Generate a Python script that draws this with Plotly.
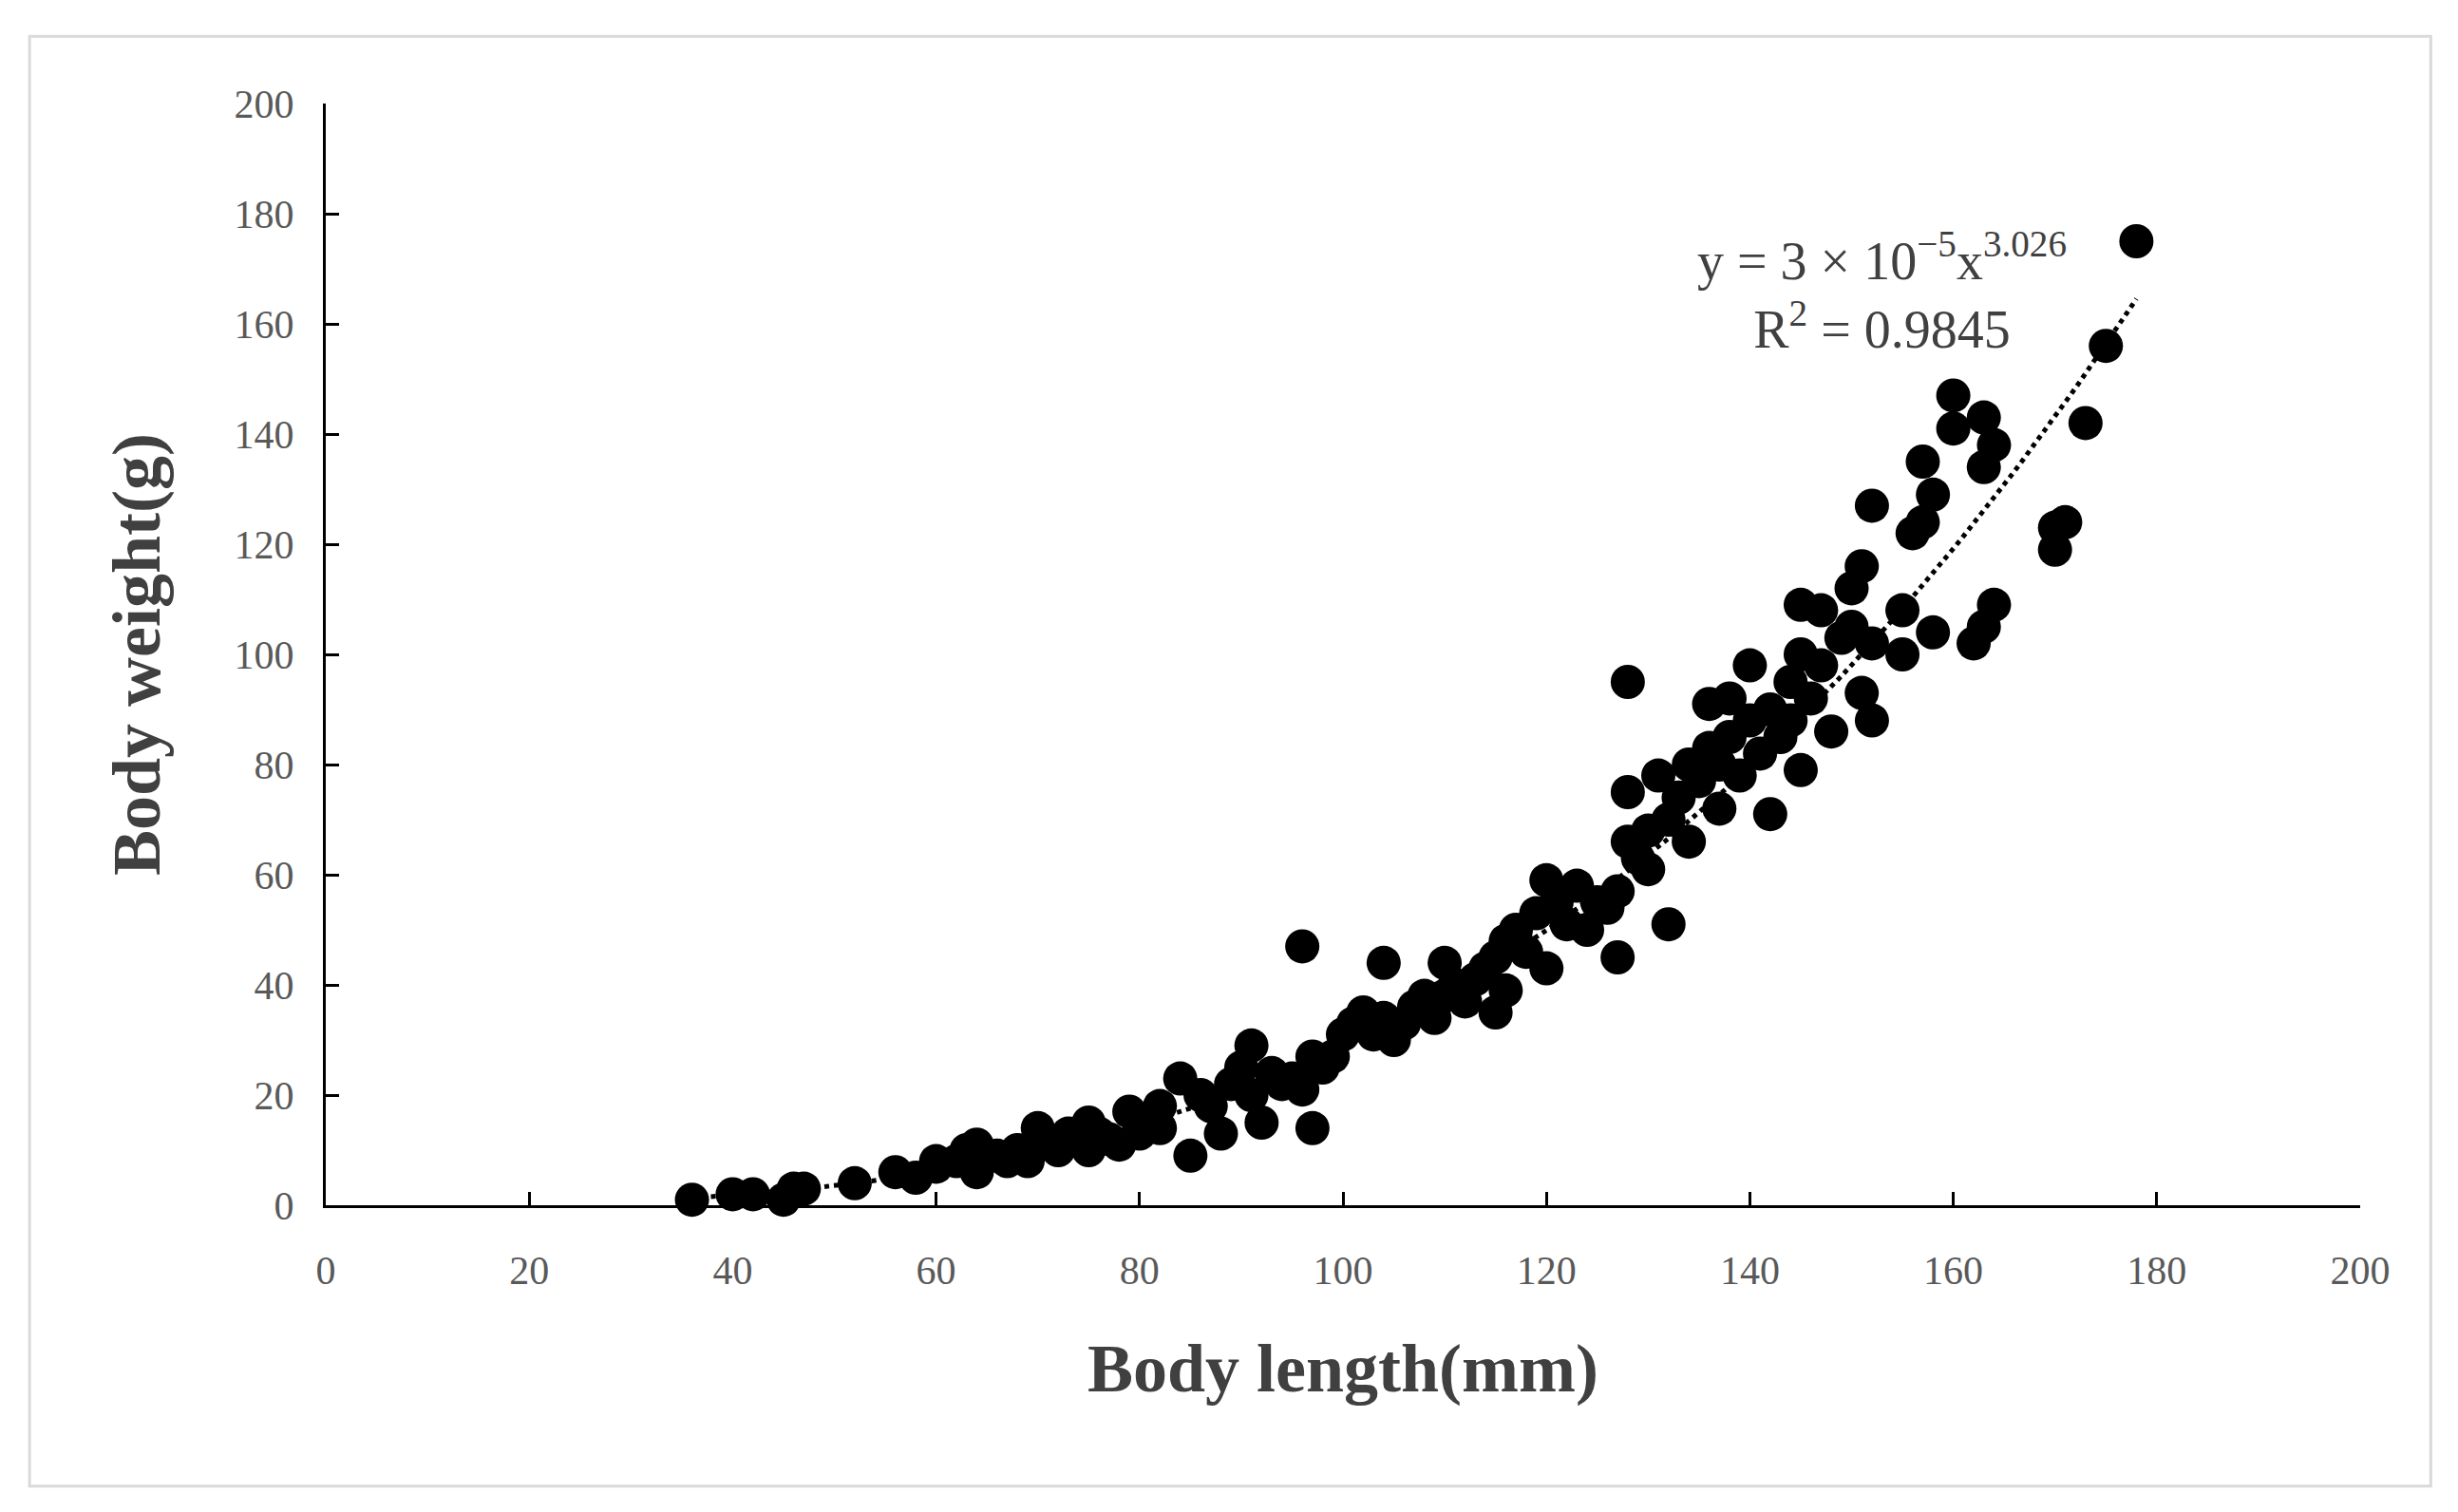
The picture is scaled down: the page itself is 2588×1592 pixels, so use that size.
import plotly.graph_objects as go
import numpy as np

pts = [(36,1),(40,2),(42,2),(45,1),(46,3),(47,3),(52,4),(56,6),(58,5),(60,7),(60,8),(62,8),(63,10),(64,6),(64,11),(65,9),(66,9),(67,8),(68,10),(69,8),(70,14),(70,11),(72,10),(73,13),(74,12),(75,15),(75,10),(76,13),(77,12),(78,11),(79,17),(80,13),(81,15),(82,18),(82,14),(84,23),(85,9),(86,20),(87,18),(88,13),(89,22),(90,25),(91,29),(91,20),(92,15),(93,24),(94,22),(95,23),(96,47),(96,21),(97,14),(97,27),(98,25),(99,27),(100,31),(101,33),(102,35),(103,31),(104,44),(104,34),(105,30),(106,33),(107,36),(108,38),(109,34),(110,44),(110,38),(111,40),(112,37),(113,41),(114,43),(115,35),(115,45),(116,39),(116,48),(117,50),(118,46),(119,53),(120,59),(120,43),(121,55),(122,51),(123,58),(124,50),(125,55),(126,54),(127,45),(127,57),(128,95),(128,75),(128,66),(129,63),(130,68),(130,61),(131,78),(132,51),(132,70),(133,74),(134,66),(134,80),(135,77),(136,91),(136,83),(137,72),(137,80),(138,92),(138,85),(139,78),(140,98),(140,88),(141,82),(142,71),(142,90),(143,85),(144,95),(144,88),(145,79),(145,109),(145,100),(146,92),(147,108),(147,98),(148,86),(149,103),(150,112),(150,105),(151,116),(151,93),(152,127),(152,88),(152,102),(155,100),(155,108),(156,122),(157,135),(157,124),(158,129),(158,104),(160,147),(160,141),(163,143),(163,134),(164,138),(162,102),(163,105),(164,109),(170,119),(170,123),(171,124),(173,142),(175,156),(178,175)]
length = [p[0] for p in pts]
weight = [p[1] for p in pts]
# trendline as drawn in the reference (coefficient shown rounded in label)
fit_a, fit_b = 2.55e-5, 3.026
tx = np.linspace(36, 178, 200)
ty = fit_a * tx ** fit_b

fig = go.Figure()
fig.add_trace(go.Scatter(x=tx, y=ty, mode="lines", line=dict(color="black", width=5, dash="dot"), showlegend=False))
fig.add_trace(go.Scatter(x=length, y=weight, mode="markers", marker=dict(color="black", size=36), showlegend=False, cliponaxis=False))

ax = dict(range=[0, 200], dtick=20, showgrid=False, zeroline=False, showline=True, linecolor="black", linewidth=3,
          ticks="inside", ticklen=14, tickwidth=3, tickcolor="black",
          tickfont=dict(family="Liberation Serif", size=42, color="#595959"))
fig.update_xaxes(**ax, ticklabelstandoff=30, title=dict(text="Body length(mm)", standoff=55,
                 font=dict(family="Liberation Serif", size=72, color="#404040", weight="bold")))
fig.update_yaxes(**ax, ticklabelstandoff=22, title=dict(text="Body weight(g)", standoff=55,
                 font=dict(family="Liberation Serif", size=72, color="#404040", weight="bold")))
fig.add_annotation(x=153, y=166, xref="x", yref="y", showarrow=False,
                   text="y = 3 × 10<sup>−5</sup>x<sup>3.026</sup><br>R<sup>2</sup> = 0.9845",
                   font=dict(family="Liberation Serif", size=56, color="#404040"))
fig.add_shape(type="rect", xref="paper", yref="paper", x0=-0.1456, x1=1.0347, y0=-0.255, y1=1.061,
              line=dict(color="#d9d9d9", width=3))
fig.update_layout(width=2588, height=1592, margin=dict(l=335, r=111, t=101, b=331),
                  plot_bgcolor="white", paper_bgcolor="white")
fig.write_html("out.html")
